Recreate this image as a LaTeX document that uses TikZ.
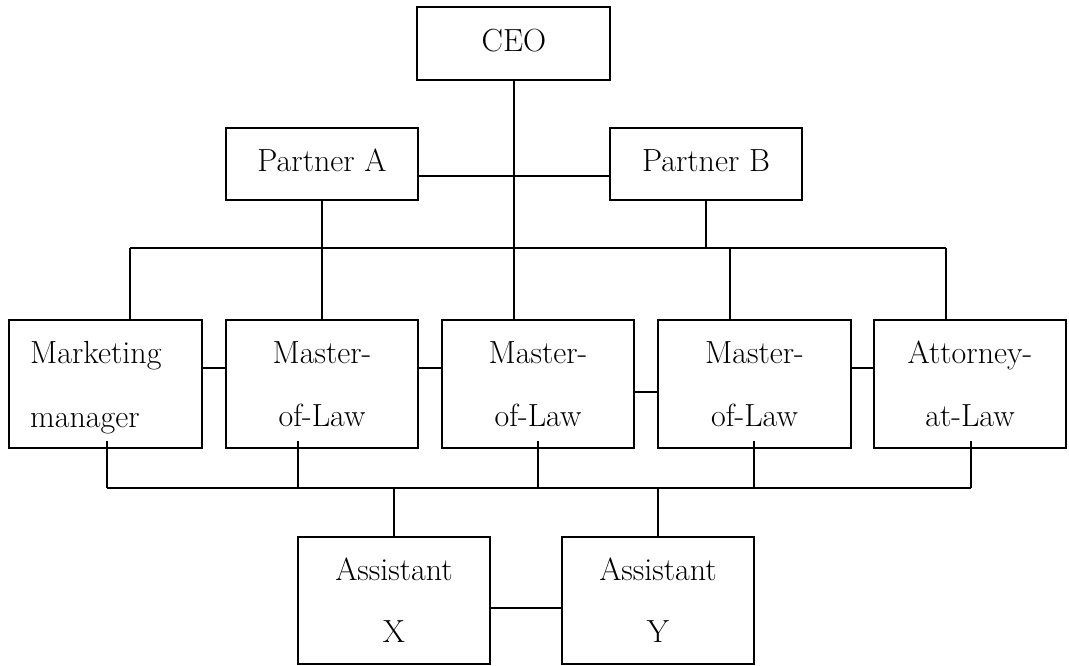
\documentclass[tikz,border=0pt]{standalone}
\usepackage{fontspec}
\begin{document}
\begin{tikzpicture}[x=1pt,y=-1pt,
  box/.style={draw=black, line width=1.8pt, inner sep=0pt, minimum width=192pt},
  lbl/.style={anchor=base, inner sep=0pt, font=\fontsize{32}{38}\selectfont},
  conn/.style={draw=black, line width=1.8pt}]
\useasboundingbox (0,0) rectangle (1069,666);

% boxes
\node[box, minimum width=193pt, minimum height=73pt] (ceo) at (513.5,43.5) {};
\node[box, minimum height=72pt] (pa) at (322,164) {};
\node[box, minimum height=72pt] (pb) at (706,164) {};
\node[box, minimum width=193pt, minimum height=128pt] (mk) at (105.5,384) {};
\node[box, minimum height=128pt] (m1) at (322,384) {};
\node[box, minimum height=128pt] (m2) at (538,384) {};
\node[box, minimum width=193pt, minimum height=128pt] (m3) at (754.5,384) {};
\node[box, minimum height=128pt] (att) at (970,384) {};
\node[box, minimum height=127pt] (ax) at (394,600.5) {};
\node[box, minimum height=127pt] (ay) at (658,600.5) {};

% texts
\node[lbl] (ceoT) at (514,52) {CEO};
\node[lbl] (paT) at (322,172) {Partner A};
\node[lbl] (pbT) at (706,172) {Partner B};
\node[lbl, anchor=base west] (mkT1) at (30,363) {Marketing};
\node[lbl, anchor=base west] (mkT2) at (30,427) {manager};
\node[lbl] (m1T1) at (322,363) {Master-};
\node[lbl] (m1T2) at (322,426) {of-Law};
\node[lbl] (m2T1) at (538,363) {Master-};
\node[lbl] (m2T2) at (538,426) {of-Law};
\node[lbl] (m3T1) at (754.5,363) {Master-};
\node[lbl] (m3T2) at (754.5,426) {of-Law};
\node[lbl] (attT1) at (970,363) {Attorney-};
\node[lbl] (attT2) at (970,426) {at-Law};
\node[lbl] (axT1) at (394,580) {Assistant};
\node[lbl] (axT2) at (394,642) {X};
\node[lbl] (ayT1) at (658,580) {Assistant};
\node[lbl] (ayT2) at (658,642) {Y};

% upper connectors
\coordinate (tbL) at (130,248);
\coordinate (tbR) at (946,248);
\coordinate (tb3) at (730,248);
\coordinate (ceoS) at ([xshift=0.5pt]ceo.south);
\draw[conn] (ceoS) -- (ceoS |- m2.north);
\draw[conn] ([yshift=-12pt]pa.east) -- ([yshift=-12pt]pb.west);
\draw[conn] (pa.south) -- (m1.north);
\draw[conn] (pb.south) -- (pb.south |- tbL);
\draw[conn] (tbL) -- (tbR);
\draw[conn] (tbL) -- (tbL |- mk.north);
\draw[conn] (tb3) -- (tb3 |- m3.north);
\draw[conn] (tbR) -- (tbR |- att.north);

% row connectors
\draw[conn] ([yshift=16pt]mk.east) -- ([yshift=16pt]m1.west);
\draw[conn] ([yshift=16pt]m1.east) -- ([yshift=16pt]m2.west);
\draw[conn] ([yshift=-8pt]m2.east) -- ([yshift=-8pt]m3.west);
\draw[conn] ([yshift=16pt]m3.east) -- ([yshift=16pt]att.west);

% lower connectors
\coordinate (bbL) at (107,488);
\coordinate (bbR) at (971,488);
\coordinate (s1) at ([xshift=1.5pt,yshift=8pt]mk.south);
\coordinate (s2) at ([xshift=-24pt,yshift=8pt]m1.south);
\coordinate (s3) at ([yshift=8pt]m2.south);
\coordinate (s4) at ([xshift=-0.5pt,yshift=8pt]m3.south);
\coordinate (s5) at ([xshift=1pt,yshift=8pt]att.south);
\draw[conn] (bbL) -- (bbR);
\foreach \s in {s1,s2,s3,s4,s5}{
  \draw[conn] (\s) -- (\s |- bbL);
}
\draw[conn] (ax.north) -- (ax.north |- bbL);
\draw[conn] (ay.north) -- (ay.north |- bbL);
\draw[conn] ([yshift=-7.5pt]ax.east) -- ([yshift=-7.5pt]ay.west);
\end{tikzpicture}
\end{document}
